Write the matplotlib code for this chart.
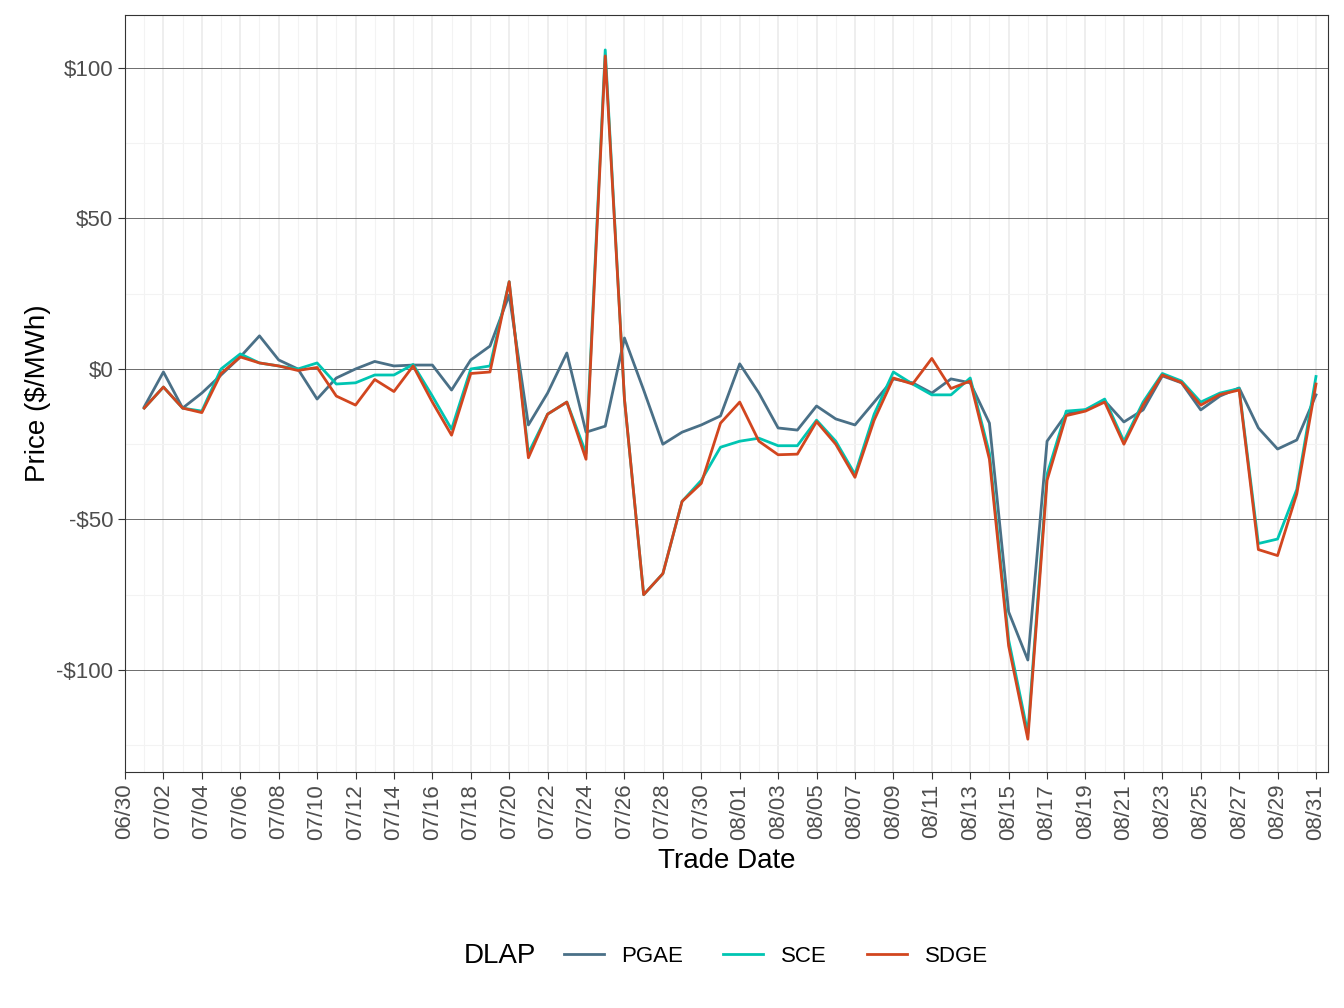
import matplotlib
matplotlib.use("Agg")
import matplotlib.pyplot as plt
import matplotlib.ticker as mticker
import pandas as pd
from matplotlib.offsetbox import HPacker

plt.rcParams["font.family"] = "Liberation Sans"

dates = pd.date_range("2023-07-01", "2023-08-31", freq="D")

pgae = [-12.6, -1, -13, -8, -2, 4, 11, 3, 0, -10, -3, 0, 2.5, 1, 1.3, 1.3, -7, 3, 7.6, 24.6,
        -18.6, -8, 5.3, -21, -19, 10.3, -7, -25, -21, -18.6, -15.6, 1.7, -8, -19.6, -20.3, -12.3,
        -16.6, -18.6, -11, -3.3, -4.6, -8, -3.3, -4.6, -18, -80.7, -96.7, -24, -15, -13.6, -10.6,
        -17.6, -13.6, -2.3, -4.6, -13.6, -9, -6.3, -19.6, -26.6, -23.6, -8.6]
sce = [-13, -6, -13, -14, 0, 5, 2, 1, 0, 2, -5, -4.6, -2, -2, 1.5, -9, -20, 0, 1, 29,
       -28, -15, -11, -28, 106, -10, -75, -68, -44, -37, -26, -24, -23, -25.5, -25.5, -17,
       -24, -35, -15, -1, -5, -8.6, -8.6, -3, -28, -90, -121, -35, -14, -13.5, -10,
       -24, -11, -1.5, -4, -11, -8, -6.5, -58, -56.5, -40, -2.5]
sdge = [-13, -6, -13, -14.5, -1.5, 4, 2, 1, -0.5, 0.5, -9, -12, -3.5, -7.5, 1, -11, -22, -1.5, -1, 29,
        -29.5, -15, -11, -30, 104, -10, -75, -68, -44, -38, -18, -11, -24, -28.5, -28.3, -17.5,
        -25, -36, -17, -3, -5, 3.5, -6.5, -4, -30, -92, -123, -37, -15.5, -14, -11,
        -25, -12, -2, -4.5, -12, -8.5, -7, -60, -62, -41.5, -5]

series = [("PGAE", pgae, "#4A7087"), ("SCE", sce, "#00C5B2"), ("SDGE", sdge, "#D2461F")]

fig = plt.figure(figsize=(13.44, 10.08), dpi=100)
ax = fig.add_axes([125/1344, 1 - 772/1008, 1203/1344, 757/1008])

lines = []
for name, vals, col in series:
    l, = ax.plot(dates, vals, color=col, lw=2, label=name)
    lines.append(l)

ax.set_xlim(pd.Timestamp("2023-06-30"), pd.Timestamp("2023-08-31") + pd.Timedelta(hours=15))
ax.set_ylim(-133.9, 117.6)

ticks = pd.date_range("2023-06-30", "2023-08-31", freq="2D")
ax.set_xticks(ticks)
ax.set_xticklabels([t.strftime("%m/%d") for t in ticks], rotation=90)
ax.set_xticks(pd.date_range("2023-07-01", "2023-08-30", freq="2D"), minor=True)
ax.set_yticks([-100, -50, 0, 50, 100])
ax.set_yticks([-125, -75, -25, 25, 75], minor=True)
ax.yaxis.set_major_formatter(mticker.FuncFormatter(lambda v, p: f"-${-v:.0f}" if v < 0 else f"${v:.0f}"))

ax.grid(which="major", color="#EBEBEB", lw=1.2)
ax.grid(which="minor", color="#F3F3F3", lw=0.8)
ax.grid(which="major", axis="y", color="#555555", lw=0.6)
ax.set_axisbelow(True)
ax.tick_params(which="minor", length=0)
ax.tick_params(which="major", labelsize=16, colors="#333333", length=5)
ax.tick_params(axis="both", labelcolor="#4D4D4D")
for s in ax.spines.values():
    s.set_color("#333333")

ax.set_xlabel("Trade Date", fontsize=20, labelpad=6)
ax.set_ylabel("Price ($/MWh)", fontsize=20)

leg = fig.legend(handles=lines, labels=[s[0] for s in series], loc="center",
                 bbox_to_anchor=(0.54, 1 - 956/1008), ncol=3, frameon=False, fontsize=16,
                 title="DLAP", title_fontsize=20, handlelength=1.8, columnspacing=1.8)
box = leg._legend_box
box._children = [HPacker(pad=0, sep=20, children=[box._children[0], box._children[1]], align="center")]

fig.savefig("out.png", dpi=100)
